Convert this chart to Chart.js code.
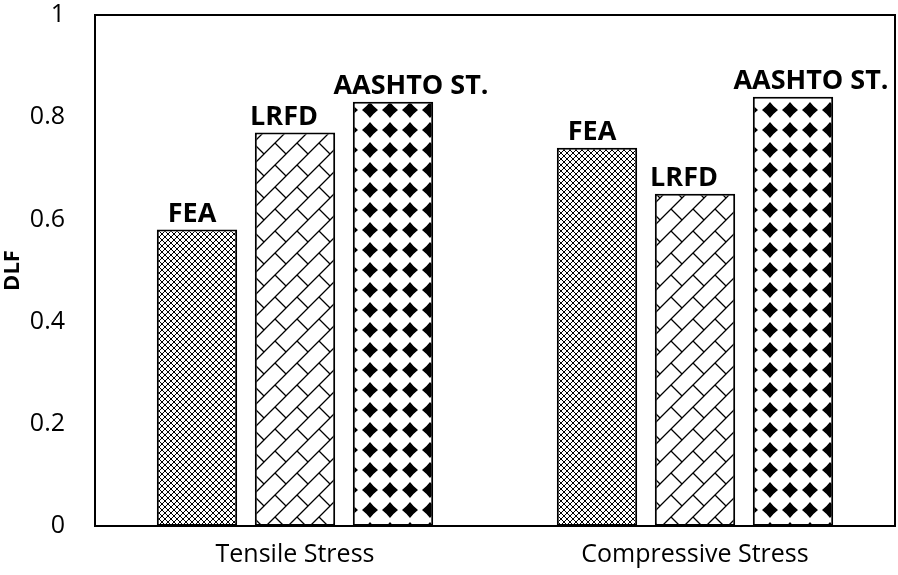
<!DOCTYPE html>
<html>
<head>
<meta charset="utf-8">
<script src="https://cdn.jsdelivr.net/npm/chart.js@4/dist/chart.umd.min.js"></script>
<style>
  html, body { margin: 0; padding: 0; background: #fff; }
  #wrap { width: 898px; height: 575px; }
</style>
</head>
<body>
<div id="wrap"><canvas id="dlfChart" width="898" height="575"></canvas></div>
<script>
// categories and series
const categories = ["Tensile Stress", "Compressive Stress"];
const seriesNames = ["FEA", "LRFD", "AASHTO ST."];
const feaValues = [0.58, 0.74];
const lrfdValues = [0.77, 0.65];
const aashtoValues = [0.83, 0.84];
const yTicks = [0, 0.2, 0.4, 0.6, 0.8, 1];

const FONT = "'Open Sans', 'Liberation Sans', sans-serif";

// fill patterns
function makeTile(w, h, draw) {
    let c = document.createElement("canvas");
    c.width = w;
    c.height = h;
    let g = c.getContext("2d");
    g.fillStyle = "#fff";
    g.fillRect(0, 0, w, h);
    draw(g, w, h);
    return document.createElement("canvas").getContext("2d").createPattern(c, "repeat");
}

// fine mesh
const meshPattern = makeTile(6, 6, function (g, w, h) {
    g.strokeStyle = "#000";
    g.lineWidth = 1;
    g.beginPath();
    g.moveTo(0, 0); g.lineTo(w, h);
    g.moveTo(w, 0); g.lineTo(0, h);
    g.stroke();
});

// diagonal brick
const brickPattern = makeTile(22, 22, function (g, s) {
    g.strokeStyle = "#000";
    g.lineWidth = 1.3;
    g.beginPath();
    g.moveTo(-2, s + 2); g.lineTo(s + 2, -2);
    g.moveTo(-2, 2); g.lineTo(2, -2);
    g.moveTo(s - 2, s + 2); g.lineTo(s + 2, s - 2);
    g.moveTo(s / 2, s / 2); g.lineTo(s, s);
    g.stroke();
});

// diamonds
const diamondPattern = makeTile(20, 20, function (g) {
    g.fillStyle = "#000";
    g.beginPath();
    g.moveTo(10, 2);
    g.quadraticCurveTo(13.5, 6.5, 18, 10);
    g.quadraticCurveTo(13.5, 13.5, 10, 18);
    g.quadraticCurveTo(6.5, 13.5, 2, 10);
    g.quadraticCurveTo(6.5, 6.5, 10, 2);
    g.fill();
});

const labelOffsets = [-5, -11, 18];

// box around the plot area + labels over bars
const boxAndLabels = {
    id: "boxAndLabels",
    afterDatasetsDraw(chart) {
        let ctx = chart.ctx;
        let a = chart.chartArea;
        ctx.save();
        ctx.strokeStyle = "#000";
        ctx.lineWidth = 2;
        ctx.strokeRect(a.left, a.top, a.right - a.left, a.bottom - a.top);

        ctx.fillStyle = "#000";
        ctx.font = "bold 27px " + FONT;
        ctx.textAlign = "center";
        ctx.textBaseline = "alphabetic";
        chart.data.datasets.forEach(function (ds, i) {
            chart.getDatasetMeta(i).data.forEach(function (bar) {
                ctx.fillText(ds.label, bar.x + labelOffsets[i], bar.y - 8);
            });
        });
        ctx.restore();
    }
};

new Chart(document.getElementById("dlfChart"), {
    type: "bar",
    data: {
        labels: categories,
        datasets: [
            { label: seriesNames[0], data: feaValues, backgroundColor: meshPattern },
            { label: seriesNames[1], data: lrfdValues, backgroundColor: brickPattern },
            { label: seriesNames[2], data: aashtoValues, backgroundColor: diamondPattern }
        ]
    },
    options: {
        responsive: false,
        animation: false,
        layout: { padding: { top: 15, right: 3, left: 0, bottom: 0 } },
        datasets: {
            bar: {
                borderColor: "#000",
                borderWidth: 2,
                borderSkipped: false,
                categoryPercentage: 0.735,
                barPercentage: 0.82
            }
        },
        plugins: {
            legend: { display: false },
            tooltip: { enabled: false }
        },
        scales: {
            x: {
                grid: { display: false, drawTicks: false },
                border: { display: false },
                ticks: { color: "#000", font: { family: FONT, size: 25 }, padding: 14 },
                afterFit(scale) { scale.height = 49; }
            },
            y: {
                min: 0,
                max: 1,
                afterBuildTicks(scale) { scale.ticks = yTicks.map(v => ({ value: v })); },
                grid: { display: false, drawTicks: false },
                border: { display: false },
                ticks: {
                    color: "#000",
                    font: { family: FONT, size: 25 },
                    padding: 30,
                    callback: v => String(v)
                },
                title: {
                    display: true,
                    text: "DLF",
                    color: "#000",
                    font: { family: FONT, size: 22, weight: "bold" },
                    padding: 0
                },
                afterFit(scale) {
                    scale.width = 95;
                    scale.paddingTop = 0;
                    scale.paddingBottom = 0;
                }
            }
        }
    },
    plugins: [boxAndLabels]
});
</script>
</body>
</html>
